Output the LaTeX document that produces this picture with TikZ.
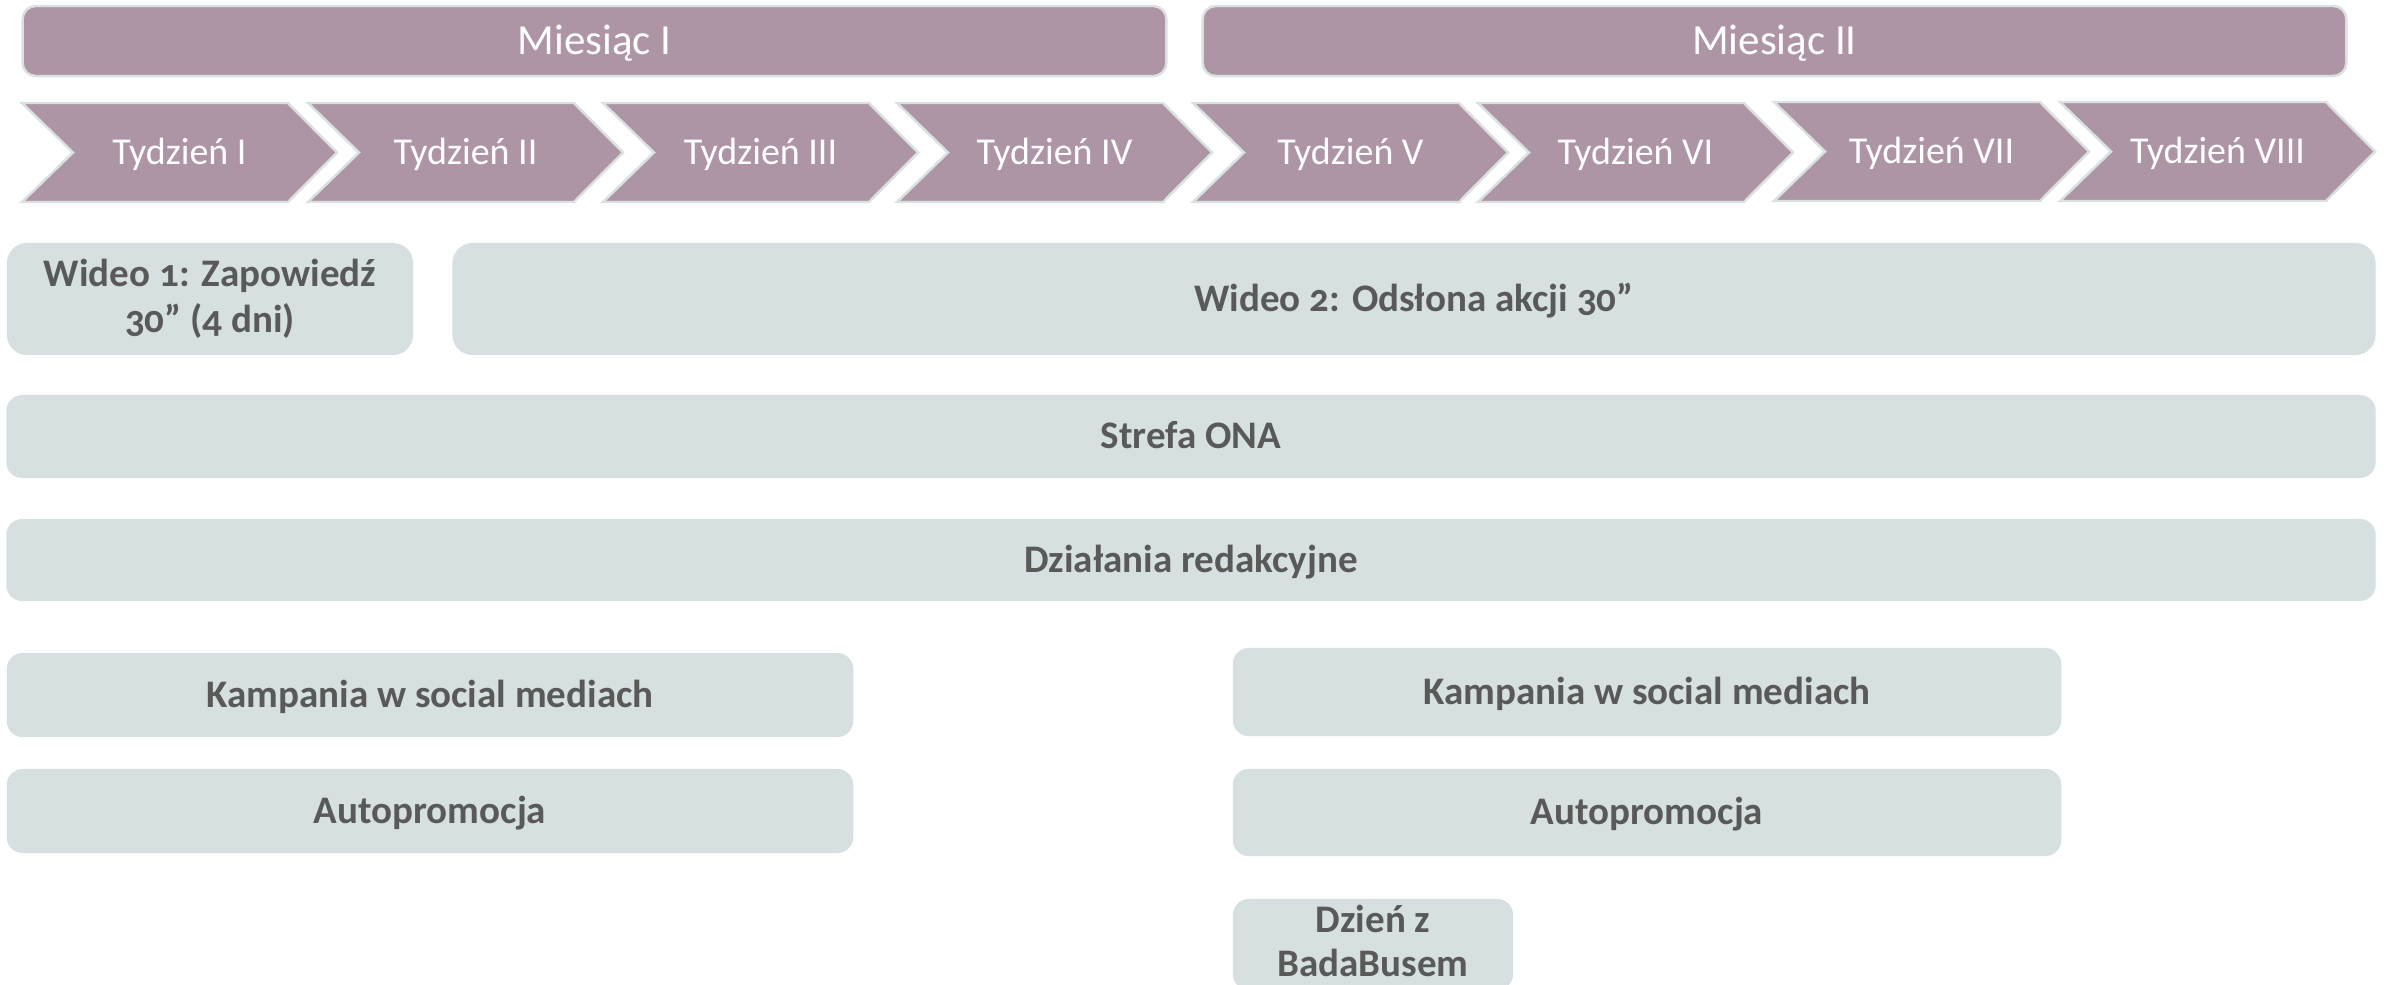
\documentclass[tikz,border=0pt]{standalone}
\usepackage{fontspec}
\setmainfont{Carlito}[Numbers=OldStyle]
\definecolor{mauve}{HTML}{AE95A6}
\definecolor{edgegrey}{HTML}{D9E1E1}
\definecolor{boxgrey}{HTML}{D7E0E1}
\definecolor{txtgrey}{HTML}{595959}
\tikzset{
  monthbar/.style={draw=edgegrey, line width=0.7pt, fill=mauve, rounded corners=3.7pt,
    inner sep=0pt, text=white, font=\fontsize{12.2}{14}\selectfont,
    text height=7.7pt, text depth=0pt},
  chevshape/.style={draw=edgegrey, line width=0.7pt, fill=mauve},
  weektext/.style={inner sep=0pt, text=white, font=\fontsize{10.8}{13}\selectfont,
    text height=6.8pt, text depth=0pt},
  greybase/.style={fill=boxgrey, draw=none, inner sep=0pt, rounded corners=4.5pt,
    text=txtgrey, font=\fontsize{11.1}{13}\bfseries\selectfont, align=center},
  greybox/.style={greybase, text height=7pt, text depth=0pt},
}
\newcommand\mychev[4]{%
  \draw[chevshape] (#2,-#3) -- ++(266,0) -- ++(49,-49.5) -- ++(-49,-49.5)
    -- ++(-266,0) -- ++(51,49.5) -- cycle;
  \node[weektext] (#1) at ({#2+157.5},{-#3-49.5}) {#4};
}
% [extra]{style}{name}{x1}{y1}{x2}{y2}{text}
\newcommand\mybox[8][]{%
  \pgfmathsetmacro\bxw{(#6-#4)/100}%
  \pgfmathsetmacro\bxh{(#7-#5)/100}%
  \node[#2, #1, anchor=center, minimum width=\bxw cm, minimum height=\bxh cm]
    (#3) at ({(#4+#6)/2},{-(#5+#7)/2}) {#8};
}
\begin{document}
\begin{tikzpicture}[x=0.01cm, y=0.01cm]
\useasboundingbox (0,0) rectangle (2387,-984);
\clip (0,0) rectangle (2387,-984);
% months
\mybox{monthbar}{m1}{23}{6}{1166}{76}{Miesiąc I}
\mybox{monthbar}{m2}{1203}{6}{2346}{76}{Miesiąc II}
% weeks
\mychev{w1}{22}{103}{Tydzień I}
\mychev{w2}{308}{103}{Tydzień II}
\mychev{w3}{603}{103}{Tydzień III}
\mychev{w4}{897}{103}{Tydzień IV}
\mychev{w5}{1193}{103}{Tydzień V}
\mychev{w6}{1478}{103}{Tydzień VI}
\mychev{w7}{1774}{102}{Tydzień VII}
\mychev{w8}{2060}{102}{Tydzień VIII}
% grey boxes
\mybox[rounded corners=5.7pt]{greybase}{v1}{7}{243}{413}{355}{Wideo 1: Zapowiedź\\30” (4 dni)}
\mybox[rounded corners=5.7pt]{greybox}{v2}{453}{243}{2375}{355}{Wideo 2: Odsłona akcji 30”}
\mybox{greybox}{strefa}{7}{395}{2375}{478}{Strefa ONA}
\mybox{greybox}{dzial}{7}{519}{2375}{601}{Działania redakcyjne}
\mybox{greybox}{k1}{7}{653}{853}{737}{Kampania w social mediach}
\mybox{greybox}{a1}{7}{769}{853}{853}{Autopromocja}
\mybox{greybox}{k2}{1233}{648}{2061}{736}{Kampania w social mediach}
\mybox{greybox}{a2}{1233}{769}{2061}{856}{Autopromocja}
\mybox[text depth=2pt, font=\fontsize{11.1}{12.6}\bfseries\selectfont]{greybase}{dzien}{1233}{899}{1513}{990}{Dzień z\\BadaBusem}
\end{tikzpicture}
\end{document}
